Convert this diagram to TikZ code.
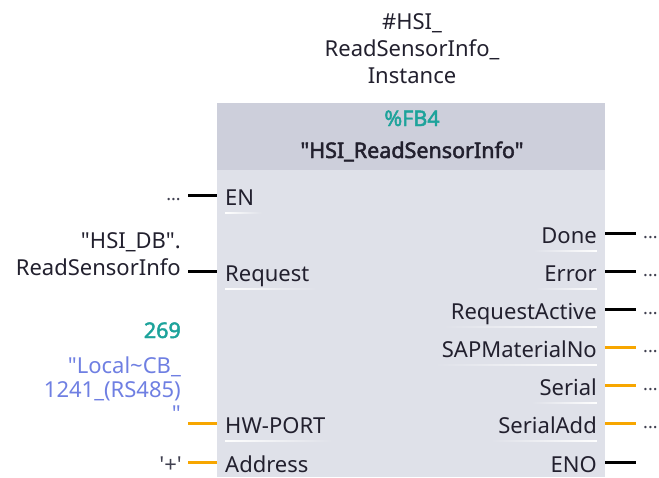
\documentclass[tikz,border=0pt]{standalone}
\usepackage{fontspec}
\setmainfont{Noto Sans}[Ligatures=TeXOff, BoldFont={Noto Sans}, BoldFeatures={FakeBold=2.2}]
\usetikzlibrary{fadings}
\definecolor{ink}{HTML}{22202E}
\definecolor{headgray}{HTML}{CDCFDB}
\definecolor{bodygray}{HTML}{DFE1E9}
\definecolor{teal}{HTML}{1DA39B}
\definecolor{tagblue}{HTML}{6F7FE2}
\definecolor{pinorange}{HTML}{F7A600}
\definecolor{dotgray}{HTML}{404050}
\begin{document}
\begin{tikzpicture}[x=1pt,y=-1pt,
  txt/.style={font=\fontsize{22}{27}\selectfont, text=ink, inner sep=0pt},
  btxt/.style={font=\fontsize{21.5}{27}\selectfont\bfseries, text=ink, inner sep=0pt},
  dots/.style={font=\fontsize{18}{20}\selectfont, text=dotgray, inner sep=0pt},
  wire/.style={line width=3pt, black},
  owire/.style={line width=3pt, pinorange},
  ulineL/.style={fill=white, path fading=east},
  ulineR/.style={fill=white, path fading=west},
]
\useasboundingbox (0,0) rectangle (659,477);

% block body and header
\fill[bodygray] (217,103) rectangle (605,477);
\fill[headgray] (217,103) rectangle (605,170);

% instance name above the block (base = last line)
\node[txt, align=center, anchor=base] (inst) at (412,83)
  {\#HSI\_\\ReadSensorInfo\_\\Instance};

% header
\node[btxt, text=teal, anchor=base] (fbnum) at (412,126) {\%FB4};
\node[btxt, anchor=base] (fbname) at (412,158) {"HSI\_ReadSensorInfo"};

% ---------- inputs ----------
\node[txt, anchor=base west] (pEN) at (225,205) {EN};
\node[txt, anchor=base west] (pReq) at (225,281) {Request};
\node[txt, anchor=base west] (pHW) at (225,433) {HW-PORT};
\node[txt, anchor=base west] (pAddr) at (225,472) {Address};

% fading rule under each input name
\foreach \n in {pEN,pReq,pHW}
  \fill[ulineL] ([yshift=-7.2pt]\n.base west) rectangle ([xshift=8pt,yshift=-8.8pt]\n.base east);

\coordinate (enA) at (188,195);   \coordinate (enB) at (217,195);
\coordinate (rqA) at (188,271);   \coordinate (rqB) at (217,271);
\coordinate (hwA) at (188,423);   \coordinate (hwB) at (217,423);
\coordinate (adA) at (188,462);   \coordinate (adB) at (217,462);

\draw[wire] (enA) -- (enB);
\draw[wire] (rqA) -- (rqB);
\draw[owire] (hwA) -- (hwB);
\draw[owire] (adA) -- (adB);

% input operands (base = last line)
\node[dots, anchor=base east] (enV) at (181,200) {...};
\node[txt, align=right, anchor=base east] (rqV) at (181,275)
  {"HSI\_DB".\\ReadSensorInfo};
\node[btxt, text=teal, anchor=base east] (hwNum) at (181,338) {269};
\node[txt, text=tagblue, align=right, anchor=base east,
      font=\fontsize{22}{24}\selectfont] (hwV) at (181,421)
  {"Local\textasciitilde CB\_\\1241\_(RS485)\\"};
\node[txt, text=dotgray, anchor=base east] (adV) at (182,472) {'+'};

% ---------- outputs ----------
\foreach \lbl/\nm/\yy in {Done/qDone/233, Error/qErr/271, RequestActive/qRA/309,
    SAPMaterialNo/qSAP/347, Serial/qSer/385, SerialAdd/qSA/423, ENO/qENO/462} {
  \node[txt, anchor=base east] (\nm) at (597,\yy+10) {\lbl};
  \coordinate (\nm A) at (605,\yy);
  \coordinate (\nm B) at (636,\yy);
}
% fading rule under each output name
\foreach \nm in {qDone,qErr,qRA,qSAP,qSer,qSA}
  \fill[ulineR] ([xshift=-9pt,yshift=-7.2pt]\nm.base west) rectangle ([yshift=-8.8pt]\nm.base east);

\draw[wire] (qDoneA) -- (qDoneB);
\draw[wire] (qErrA) -- (qErrB);
\draw[wire] (qRAA) -- (qRAB);
\draw[owire] (qSAPA) -- (qSAPB);
\draw[owire] (qSerA) -- (qSerB);
\draw[owire] (qSAA) -- (qSAB);
\draw[wire] (qENOA) -- (qENOB);

\node[dots, anchor=base west] (dDone) at (643,238) {...};
\node[dots, anchor=base west] (dErr) at (643,276) {...};
\node[dots, anchor=base west] (dRA) at (643,314) {...};
\node[dots, anchor=base west] (dSAP) at (643,352) {...};
\node[dots, anchor=base west] (dSer) at (643,390) {...};
\node[dots, anchor=base west] (dSA) at (643,428) {...};
\end{tikzpicture}
\end{document}
